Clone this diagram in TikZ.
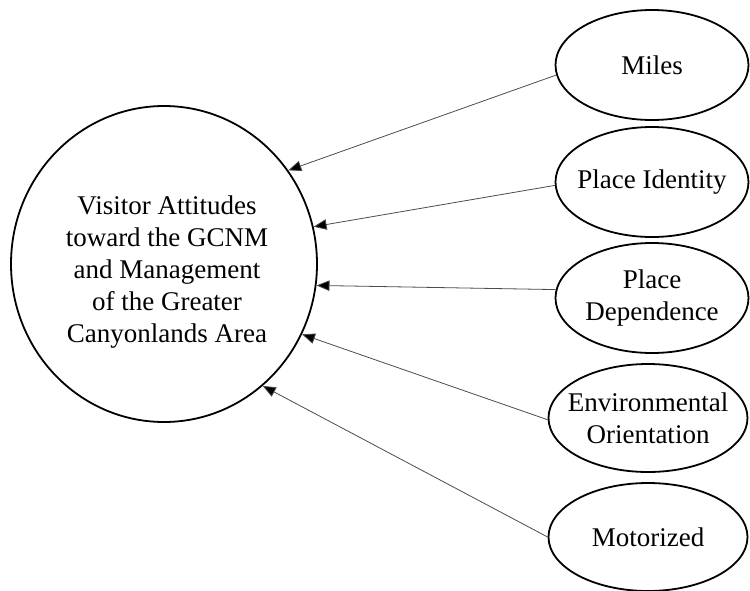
\documentclass[tikz,border=0pt]{standalone}
\usepackage{fontspec}
\setmainfont{Liberation Serif}
\usetikzlibrary{shapes.geometric,arrows.meta}
\begin{document}
\begin{tikzpicture}[x=1pt,y=-1pt,
  label font/.style={font=\fontsize{27}{32}\selectfont},
  construct/.style={draw=black,line width=1.8pt,ellipse,
    inner xsep=-25pt,inner ysep=-12pt,align=center,label font},
  outcome/.style={construct,minimum width=306pt,minimum height=316pt},
  factor/.style={construct,minimum width=193pt,minimum height=110pt},
  wide factor/.style={construct,minimum width=199pt,minimum height=108pt},
  caption/.style={align=center,inner sep=0pt,label font},
  path link/.style={draw=black!70,line width=0.8pt,
    -{Triangle[length=13pt,width=10.5pt,fill=black]}}]
  \useasboundingbox (0,0) rectangle (750,590);

  % dependent construct, with its wording set a little below the centre
  \node[outcome] (att) at (164,264) {};
  \node[caption] (atttext) at (167,272)
    {Visitor Attitudes\\toward the GCNM\\and Management\\of the Greater\\Canyonlands Area};

  % predictors
  \node[factor] (miles) at (652,65) {Miles};
  \node[factor] (ident) at (652,182) {Place Identity};
  \node[factor] (dep) at (652,298) {Place\\Dependence};
  \node[wide factor] (env) at (648,418) {Environmental\\Orientation};
  \node[wide factor] (mot) at (648,537) {Motorized};

  % paths
  \draw[path link] (miles.186) -- (att.37);
  \draw[path link] (ident.182) -- (att.14);
  \draw[path link] (dep.175) -- (att.-8);
  \draw[path link] (env.181) -- (att.-27.7);
  \draw[path link] (mot.180) -- (att.-51.4);
\end{tikzpicture}
\end{document}
